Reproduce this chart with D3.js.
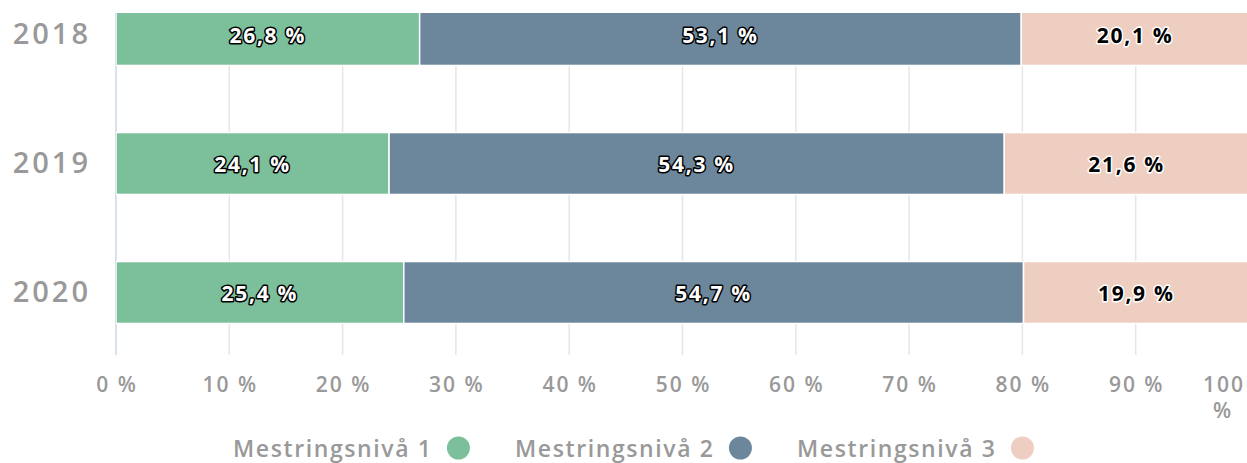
<!DOCTYPE html>
<html>
<head>
<meta charset="utf-8">
<script src="https://cdn.jsdelivr.net/npm/d3@7"></script>
<style>
  body { margin: 0; background: #fff; }
  svg { display: block; font-family: "Open Sans", "DejaVu Sans", sans-serif; }
</style>
</head>
<body>
<div id="chart"></div>
<script>
// chart data
var years = ["2018", "2019", "2020"];
var seriesNames = ["Mestringsnivå 1", "Mestringsnivå 2", "Mestringsnivå 3"];
var niva1 = [26.8, 24.1, 25.4];
var niva2 = [53.1, 54.3, 54.7];
var niva3 = [20.1, 21.6, 19.9];
var xTicks = [0, 10, 20, 30, 40, 50, 60, 70, 80, 90, 100];

var colors = ["#7cbf9b", "#6c879b", "#eecec0"];
var labelFill = ["#fff", "#fff", "#000"];
var labelStroke = ["#000", "#000", "#fff"];

var svgWidth = 1247;
var svgHeight = 463;
var plotTop = 13, plotBottom = 355, plotLeft = 116, plotRight = 1249;

var svg = d3.select("#chart")
  .append("svg")
  .attr("width", svgWidth)
  .attr("height", svgHeight);

var x = d3.scaleLinear()
  .domain([0, 100])
  .range([plotLeft, plotRight]);

var y = d3.scaleBand()
  .domain(years)
  .range([-30, 357])
  .paddingInner(0.52)
  .paddingOuter(0.26);

// build stacked rows
var rows = years.map(function(yr, i) {
  return { year: yr, s0: niva1[i], s1: niva2[i], s2: niva3[i] };
});
var stacked = d3.stack().keys(["s0", "s1", "s2"])(rows);

svg.append("clipPath")
  .attr("id", "plotclip")
  .append("rect")
  .attr("x", plotLeft)
  .attr("y", plotTop)
  .attr("width", svgWidth - plotLeft)
  .attr("height", plotBottom - plotTop);

// gridlines
svg.append("g")
  .selectAll("line")
  .data(xTicks.slice(1))
  .enter()
  .append("line")
  .attr("x1", d => x(d))
  .attr("x2", d => x(d))
  .attr("y1", plotTop)
  .attr("y2", plotBottom)
  .attr("stroke", "#e6e6e6")
  .attr("stroke-width", 1.5);

// y axis line
svg.append("line")
  .attr("x1", plotLeft)
  .attr("x2", plotLeft)
  .attr("y1", plotTop)
  .attr("y2", plotBottom)
  .attr("stroke", "#ccd6eb")
  .attr("stroke-width", 1.5);

// bars
var plot = svg.append("g").attr("clip-path", "url(#plotclip)");

stacked.forEach(function(layer, si) {
  plot.append("g")
    .selectAll("rect")
    .data(layer)
    .enter()
    .append("rect")
    .attr("x", d => x(d[0]))
    .attr("y", d => y(d.data.year))
    .attr("width", d => x(d[1]) - x(d[0]))
    .attr("height", y.bandwidth())
    .attr("fill", colors[si])
    .attr("stroke", "#fff")
    .attr("stroke-width", 1.5);
});

// data labels
stacked.forEach(function(layer, si) {
  svg.append("g")
    .selectAll("text")
    .data(layer)
    .enter()
    .append("text")
    .attr("x", d => (x(d[0]) + x(d[1])) / 2)
    .attr("y", d => y(d.data.year) + y.bandwidth() / 2 + 8)
    .attr("text-anchor", "middle")
    .style("font-size", "21px")
    .style("font-weight", "bold")
    .style("letter-spacing", "1.7px")
    .style("paint-order", "stroke")
    .attr("fill", labelFill[si])
    .attr("stroke", labelStroke[si])
    .attr("stroke-width", 3)
    .attr("stroke-linejoin", "round")
    .text(d => String(d.data["s" + si]).replace(".", ",") + "\u00a0%");
});

// year labels
svg.append("g")
  .selectAll("text")
  .data(years)
  .enter()
  .append("text")
  .attr("x", 91)
  .attr("y", d => y(d) + y.bandwidth() / 2 + 9)
  .attr("text-anchor", "end")
  .attr("fill", "#999")
  .style("font-size", "29px")
  .style("font-weight", 600)
  .style("letter-spacing", "3px")
  .text(d => d);

// x tick labels
var tickG = svg.append("g");
xTicks.forEach(function(t) {
  var txt = tickG.append("text")
    .attr("text-anchor", "middle")
    .attr("fill", "#999")
    .style("font-size", "21px")
    .style("font-weight", 600)
    .style("letter-spacing", "2px");
  if (t === 100) {
    txt.append("tspan").attr("x", 1224).attr("y", 392).text(t);
    txt.append("tspan").attr("x", 1223).attr("y", 418).text("%");
  } else {
    txt.attr("x", x(t) + 1).attr("y", 392).text(t + "\u00a0%");
  }
});

// legend
var legendX = [233, 515, 797];
var legend = svg.append("g");
seriesNames.forEach(function(name, i) {
  var t = legend.append("text")
    .attr("x", legendX[i])
    .attr("y", 457)
    .attr("fill", "#999")
    .style("font-size", "23px")
    .style("font-weight", 600)
    .style("letter-spacing", "1.6px")
    .text(name);
  var w = t.node().getComputedTextLength();
  legend.append("circle")
    .attr("cx", legendX[i] + w + 26)
    .attr("cy", 448)
    .attr("r", 11.5)
    .attr("fill", colors[i]);
});
</script>
</body>
</html>
